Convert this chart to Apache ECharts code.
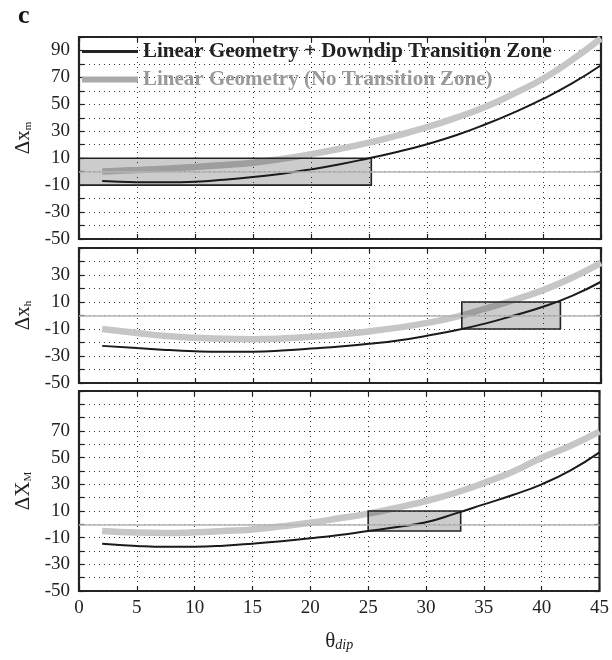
<!DOCTYPE html>
<html>
<head>
<meta charset="utf-8">
<script src="https://cdn.jsdelivr.net/npm/echarts@6/dist/echarts.min.js"></script>
<style>html,body{margin:0;padding:0;background:#fff}#c{width:612px;height:660px}</style>
</head>
<body>
<div id="c"></div>
<script>
// ---- data ----
const thetaDip = [2, 5, 7.5, 10, 12.5, 15, 17.5, 20, 22.5, 25, 27.5, 30, 32.5, 35, 37.5, 40, 42.5, 45];
const xTicks = [0, 5, 10, 15, 20, 25, 30, 35, 40, 45];
// panel m
const m_TZ   = [-7, -7.8, -7.9, -7.5, -6, -4, -1.5, 1.7, 5.5, 10, 14.8, 20.4, 27, 35, 44, 54, 65.5, 79];
const m_noTZ = [0.2, 1.2, 2.2, 3.5, 5, 6.7, 9.5, 13, 17, 21.6, 27, 33, 40, 48, 58, 69, 83, 99];
// panel h
const h_TZ   = [-22.5, -24, -25.5, -26.5, -26.9, -26.8, -26, -24.5, -23, -21, -18.5, -15, -11, -6, 0, 6.5, 14.5, 25];
const h_noTZ = [-10, -13, -15.2, -16.5, -17.3, -17.5, -17, -15.8, -14, -11.8, -9, -5.5, -1, 5, 11.5, 18.8, 28, 39];
// panel M
const M_TZ   = [-14.5, -16.2, -16.9, -16.8, -16, -14.5, -12.7, -10.5, -8, -5, -2, 1.5, 8, 15, 22, 30, 40.5, 54];
const M_noTZ = [-5, -6.2, -6.5, -6, -5, -3.8, -1.5, 1.2, 4.5, 8, 12.5, 17.5, 23.5, 31, 39.5, 50, 59, 69.5];
// boxes [x0, x1, y0, y1]
const boxM_small = [0, 25.2, -10, 10];
const boxH = [33.0, 41.5, -10, 10];
const boxM_big = [25.0, 33.0, -5, 10];
// y tick labels shown per panel
const yLabelsTop = [-50, -30, -10, 10, 30, 50, 70, 90];
const yLabelsMid = [-50, -30, -10, 10, 30];
const yLabelsBot = [-50, -30, -10, 10, 30, 50, 70];
const nameTZ = 'Linear Geometry + Downdip Transition Zone';
const nameNoTZ = 'Linear Geometry (No Transition Zone)';

const FONT = 'Liberation Serif';
const chart = echarts.init(document.getElementById('c'));

const grids = [
  {left: 79, top: 37, width: 522, height: 202},
  {left: 79, top: 248, width: 522, height: 135},
  {left: 79, top: 391, width: 522, height: 200}
];
const yRanges = [[-50, 100], [-50, 50], [-50, 100]];
const yLabelSets = [yLabelsTop, yLabelsMid, yLabelsBot];
const yNames = [
  '{a|Δx}{s|m}',
  '{a|Δx}{s|h}',
  '{a|ΔX}{s|M}'
];
const panels = [
  {tz: m_TZ, no: m_noTZ, box: boxM_small},
  {tz: h_TZ, no: h_noTZ, box: boxH},
  {tz: M_TZ, no: M_noTZ, box: boxM_big}
];

const dotted = {color: '#333', width: 1, type: [1, 4]};

const xAxis = [], yAxis = [], series = [];
for (let i = 0; i < 3; i++) {
  xAxis.push({
    type: 'value', gridIndex: i, min: 0, max: 45, interval: 5, position: 'bottom',
    axisLine: {show: false, onZero: false},
    axisTick: {show: true, inside: true, length: 5, lineStyle: {color: '#222', width: 1.2}},
    axisLabel: {show: i === 2, color: '#222', fontFamily: FONT, fontSize: 19, margin: 8},
    splitLine: {show: true, lineStyle: dotted},
    name: i === 2 ? '{t|θ}{d|dip}' : '',
    nameLocation: 'middle', nameGap: 40,
    nameTextStyle: {rich: {
      t: {fontFamily: FONT, fontSize: 21, color: '#222'},
      d: {fontFamily: FONT, fontSize: 14, fontStyle: 'italic', color: '#222', verticalAlign: 'bottom', padding: [6, 0, 0, 0]}
    }}
  });
  const lbls = yLabelSets[i];
  yAxis.push({
    type: 'value', gridIndex: i, min: yRanges[i][0], max: yRanges[i][1], interval: 10, position: 'left',
    axisLine: {show: false, onZero: false},
    axisTick: {show: true, inside: true, length: 5, lineStyle: {color: '#222', width: 1.2}},
    axisLabel: {show: true, color: '#222', fontFamily: FONT, fontSize: 19, margin: 9,
      formatter: v => (lbls.indexOf(v) >= 0 ? String(v) : '')},
    splitLine: {show: true, lineStyle: dotted},
    name: yNames[i], nameLocation: 'middle', nameRotate: 90, nameGap: 44,
    nameTextStyle: {rich: {
      a: {fontFamily: FONT, fontSize: 21, color: '#222'},
      s: {fontFamily: FONT, fontSize: 11, color: '#222', verticalAlign: 'bottom', padding: [5, 0, 0, 0]}
    }}
  });
}
for (let i = 0; i < 3; i++) {
  xAxis.push({
    type: 'value', gridIndex: i, min: 0, max: 45, interval: 5, position: 'top',
    axisLine: {show: false, onZero: false},
    axisTick: {show: true, inside: true, length: 5, lineStyle: {color: '#222', width: 1.2}},
    axisLabel: {show: false}, splitLine: {show: false}
  });
  yAxis.push({
    type: 'value', gridIndex: i, min: yRanges[i][0], max: yRanges[i][1], interval: 10, position: 'right',
    axisLine: {show: false, onZero: false},
    axisTick: {show: true, inside: true, length: 5, lineStyle: {color: '#222', width: 1.2}},
    axisLabel: {show: false}, splitLine: {show: false}
  });
}

function pairs(xs, ys) { return xs.map((x, k) => [x, ys[k]]); }

for (let i = 0; i < 3; i++) {
  const p = panels[i];
  series.push({
    name: nameNoTZ, type: 'line', xAxisIndex: i, yAxisIndex: i, z: 2,
    data: pairs(thetaDip, p.no), smooth: 0.5, symbol: 'none', legendIcon: 'none',
    lineStyle: {color: '#c6c6c6', width: 6.5}, itemStyle: {color: '#aaa'},
    markLine: {silent: true, symbol: 'none', label: {show: false},
      lineStyle: {color: '#b4b4b4', width: 1.5, type: 'solid'},
      data: [{yAxis: 0}]},
    clip: true
  });
  series.push({
    type: 'custom', xAxisIndex: i, yAxisIndex: i, z: 3, silent: true,
    data: [p.box],
    encode: {x: [0, 1], y: [2, 3]},
    renderItem: function (params, api) {
      const a = api.coord([api.value(0), api.value(3)]);
      const b = api.coord([api.value(1), api.value(2)]);
      return {type: 'rect', shape: {x: a[0], y: a[1], width: b[0] - a[0], height: b[1] - a[1]},
        style: {fill: 'rgba(0,0,0,0.2)', stroke: '#222', lineWidth: 1.6}};
    }
  });
  series.push({
    name: nameTZ, type: 'line', xAxisIndex: i, yAxisIndex: i, z: 4,
    data: pairs(thetaDip, p.tz), smooth: 0.5, symbol: 'none', legendIcon: 'none',
    lineStyle: {color: '#1a1a1a', width: 2}, itemStyle: {color: '#1a1a1a'},
    clip: true
  });
}

chart.setOption({
  animation: false,
  backgroundColor: '#fff',
  title: {text: 'c', left: 13, top: -2, textStyle: {fontFamily: FONT, fontWeight: 'bold', fontSize: 26, color: '#111'}},
  grid: grids.map(g => Object.assign({show: true, borderColor: '#222', borderWidth: 2.2, backgroundColor: 'transparent'}, g)),
  legend: {
    orient: 'vertical', left: 79, top: 41, padding: 0,
    itemWidth: 56, itemHeight: 14, itemGap: 7,
    textStyle: {fontFamily: FONT, fontWeight: 'bold', fontSize: 21},
    data: [
      {name: nameTZ, textStyle: {color: '#222'}, lineStyle: {color: '#222', width: 3}, itemStyle: {opacity: 0, borderWidth: 0}},
      {name: nameNoTZ, textStyle: {color: '#999'}, lineStyle: {color: '#aaa', width: 6}, itemStyle: {opacity: 0, borderWidth: 0}}
    ]
  },
  xAxis: xAxis,
  yAxis: yAxis,
  series: series
});
</script>
</body>
</html>
